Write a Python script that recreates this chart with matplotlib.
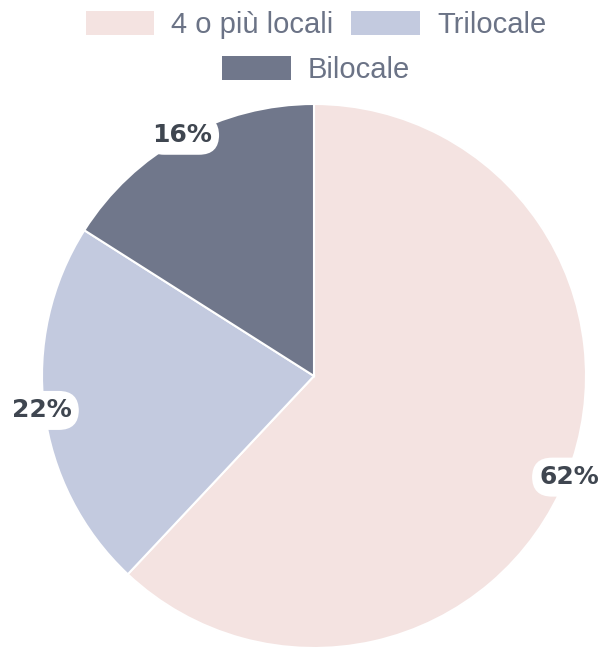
import matplotlib
matplotlib.use("Agg")
import matplotlib.pyplot as plt
from matplotlib.patches import Patch
import numpy as np

categories = ["4 o più locali", "Trilocale", "Bilocale"]
values = [62, 22, 16]
colors = ["#f4e3e1", "#c3cadf", "#70778b"]

fig = plt.figure(figsize=(6.04, 6.5), dpi=100)
W, H = 604, 650
cx, cy, r = 314, 376, 272
ax = fig.add_axes([(cx - r) / W, (H - cy - r) / H, 2 * r / W, 2 * r / H])

wedges, _ = ax.pie(values, colors=colors, startangle=90, counterclock=False,
                   radius=1.0, wedgeprops=dict(edgecolor="white", linewidth=1.5))
ax.set_xlim(-1, 1)
ax.set_ylim(-1, 1)
ax.set_aspect("equal")
ax.axis("off")

start = 90.0
for v in values:
    span = v / sum(values) * 360
    mid = np.deg2rad(start - span / 2)
    start -= span
    x, y = 1.01 * np.cos(mid), 1.01 * np.sin(mid)
    ax.text(x, y, f"{v}%", ha="center", va="center", fontsize=18,
            fontweight="bold", color="#3f4650", family="DejaVu Sans",
            bbox=dict(boxstyle="round,pad=0.3,rounding_size=0.8", fc="white", ec="none"),
            clip_on=False, zorder=5)

handles = [Patch(facecolor=c, edgecolor="none") for c in colors]
lp = dict(frameon=False, prop=dict(family="Liberation Sans", size=21), labelcolor="#6b7386",
          handlelength=2.35, handleheight=0.9, handletextpad=0.58, columnspacing=0.62)
fig.legend(handles[:2], categories[:2], loc="center", bbox_to_anchor=(0.523, 1 - 25 / H),
           ncol=2, **lp)
fig.legend(handles[2:], categories[2:], loc="center", bbox_to_anchor=(0.523, 1 - 70 / H),
           ncol=1, **lp)

fig.savefig("out.png", dpi=100, facecolor="white")
